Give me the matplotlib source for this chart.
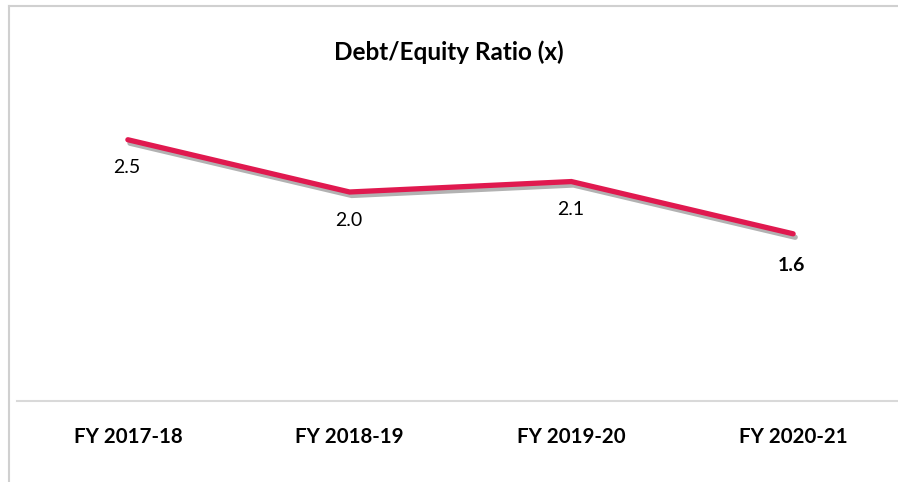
import matplotlib.pyplot as plt
import matplotlib.patheffects as pe
from matplotlib.lines import Line2D

years = ["FY 2017-18", "FY 2018-19", "FY 2019-20", "FY 2020-21"]
ratio = [2.5, 2.0, 2.1, 1.6]
labels = ["2.5", "2.0", "2.1", "1.6"]

W, H = 898, 482
fig = plt.figure(figsize=(W / 100, H / 100), dpi=100)
plt.rcParams['font.family'] = ['Lato', 'DejaVu Sans']

# outer chart frame (only left and top edges are visible)
fx, fy = 8.5 / W, 1 - 5.5 / H
fig.lines.append(Line2D([fx, fx], [0, fy], transform=fig.transFigure, color='#d0d0d0', linewidth=1.5))
fig.lines.append(Line2D([fx, 1], [fy, fy], transform=fig.transFigure, color='#d0d0d0', linewidth=1.5))

ax = fig.add_axes([17 / W, (H - 401) / H, 887 / W, 313.5 / H])
x = range(len(years))
ax.plot(x, ratio, color='#e0194f', linewidth=3.8, solid_capstyle='round', solid_joinstyle='miter',
        path_effects=[pe.SimpleLineShadow(offset=(1.5, -2.5), shadow_color='black', alpha=0.3),
                      pe.Normal()])
ax.set_xlim(-0.5, 3.5)
ax.set_ylim(0, 3)

for i, (v, t) in enumerate(zip(ratio, labels)):
    bold = i == len(ratio) - 1
    ax.annotate(t, (i, v), xytext=(-2 if bold else -1, -28 - (4 if bold else 0)),
                textcoords='offset pixels', ha='center', va='center', fontsize=14,
                fontweight='bold' if bold else 'normal', color='#000000')

for s in ['top', 'right', 'left']:
    ax.spines[s].set_visible(False)
ax.spines['bottom'].set_color('#d9d9d9')
ax.spines['bottom'].set_linewidth(1.5)
ax.set_yticks([])
ax.set_xticks(list(x))
ax.set_xticklabels(years, fontsize=14.8, fontweight='bold')
ax.tick_params(axis='x', length=0, pad=19)

fig.text(449 / W, 1 - 52 / H, "Debt/Equity Ratio (x)", ha='center', va='center',
         fontsize=17.5, fontweight='bold')

fig.savefig('out.png', dpi=100)
